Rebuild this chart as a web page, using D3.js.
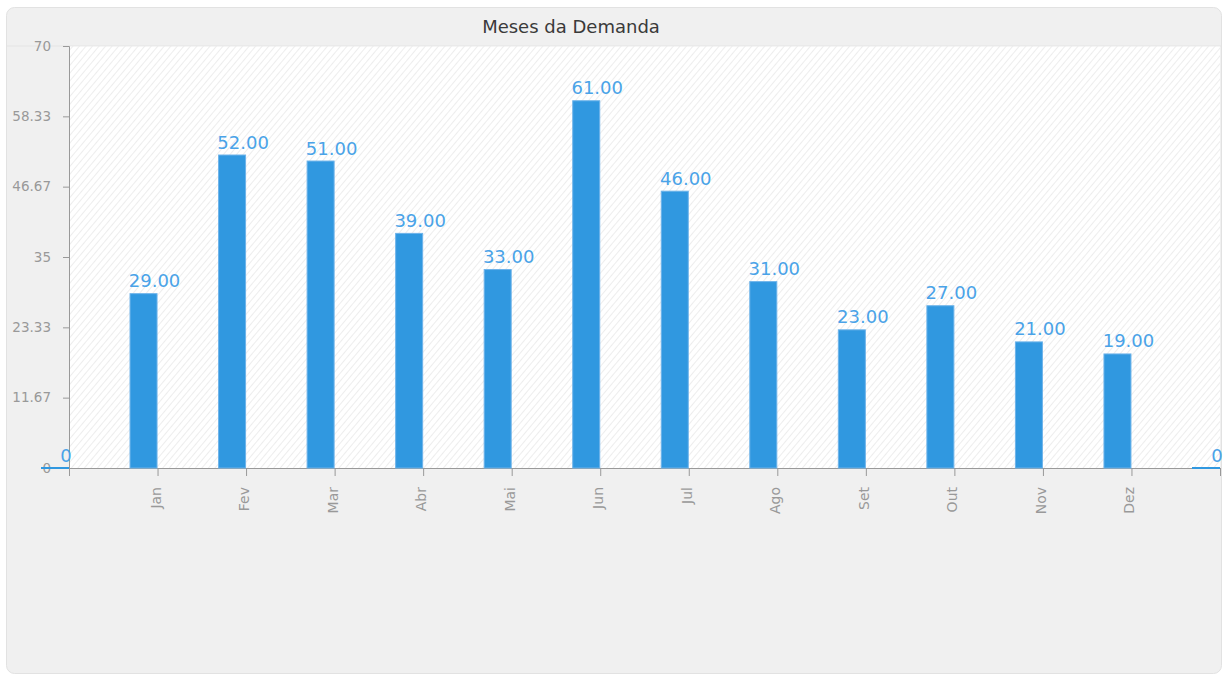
<!DOCTYPE html>
<html><head><meta charset="utf-8">
<script src="https://cdn.jsdelivr.net/npm/d3@7"></script>
<style>
html,body{margin:0;padding:0;background:#fff;}
svg{display:block;font-family:"DejaVu Sans",Verdana,sans-serif;}
</style></head>
<body>
<script>
const title = "Meses da Demanda";
const categories = ["", "Jan","Fev","Mar","Abr","Mai","Jun","Jul","Ago","Set","Out","Nov","Dez", ""];
const values = [0, 29, 52, 51, 39, 33, 61, 46, 31, 23, 27, 21, 19, 0];
const yTicks = [0, 11.67, 23.33, 35, 46.67, 58.33, 70];
const yMax = 70;

const W = 1226, H = 675;
const svg = d3.select("body").append("svg").attr("width", W).attr("height", H);
const defs = svg.append("defs");
const pat = defs.append("pattern").attr("id","hatch").attr("patternUnits","userSpaceOnUse")
  .attr("width",5).attr("height",5).attr("patternTransform","rotate(40)");
pat.append("rect").attr("width",5).attr("height",5).attr("fill","#ffffff");
pat.append("line").attr("x1",0).attr("y1",0).attr("x2",0).attr("y2",5).attr("stroke","#e6e6e6").attr("stroke-width",1.4);

// panel
svg.append("rect").attr("x",6.5).attr("y",7.5).attr("width",1215).attr("height",666).attr("rx",8)
  .attr("fill","#f0f0f0").attr("stroke","#e2e2e2");
svg.append("line").attr("x1",7).attr("x2",1221).attr("y1",46).attr("y2",46).attr("stroke","#e4e4e4");

const pL = 69, pR = 1220, pT = 46, pB = 468;
const x = d3.scaleLinear().domain([0, categories.length - 1]).range([pL, pR]);
const y = d3.scaleLinear().domain([0, yMax]).range([pB, pT]);

// plot background
svg.append("rect").attr("x",pL).attr("y",pT+0.5).attr("width",pR-pL).attr("height",pB-pT-0.5)
  .attr("fill","url(#hatch)");

// title
svg.append("text").attr("x",571).attr("y",33).attr("text-anchor","middle")
  .attr("font-size",18).attr("fill","#3a3a3a").text(title);

// y axis
const yAxis = d3.axisLeft(y).tickValues(yTicks).tickSize(6).tickFormat(d => String(d));
const gy = svg.append("g").attr("transform",`translate(${pL},0)`).call(yAxis);
gy.select(".domain").attr("stroke","#999");
gy.selectAll(".tick line").attr("stroke","#999");
gy.selectAll(".tick text").attr("fill","#999").attr("font-size",13.5).attr("x",-18).attr("dy","0.32em")
  .attr("font-family","'DejaVu Sans',Verdana,sans-serif");

// x axis
const idx = d3.range(categories.length);
const xAxis = d3.axisBottom(x).tickValues(idx).tickSize(8).tickFormat(i => categories[i]);
const gx = svg.append("g").attr("transform",`translate(0,${pB})`).call(xAxis);
gx.select(".domain").attr("stroke","#999");
gx.selectAll(".tick line").attr("stroke","#999");
gx.selectAll(".tick text").attr("fill","#999").attr("font-size",14)
  .attr("font-family","'DejaVu Sans',Verdana,sans-serif")
  .attr("transform","rotate(-90)").attr("text-anchor","end").attr("x",-19).attr("y",-2).attr("dy","0.32em");

// bars
const barW = 28;
svg.append("g").selectAll("rect").data(values).join("rect")
  .attr("x",(d,i)=>x(i)-barW+0.5).attr("width",barW-1)
  .attr("y",d=>y(d)+0.5).attr("height",d=>Math.max(0,y(0)-y(d)-0.5))
  .attr("fill","#3098e0").attr("stroke","#6db3ea").attr("stroke-width",1);
// zero-value bars drawn as line
svg.append("g").selectAll("line").data(values.map((v,i)=>({v,i})).filter(d=>d.v===0)).join("line")
  .attr("x1",d=>x(d.i)-barW).attr("x2",d=>x(d.i)).attr("y1",y(0)).attr("y2",y(0))
  .attr("stroke","#3098e0").attr("stroke-width",2);

// labels
svg.append("g").selectAll("text").data(values).join("text")
  .attr("x",(d,i)=>x(i)-3).attr("y",d=>y(d)-6).attr("text-anchor","middle")
  .attr("font-size",18).attr("fill","#4aa3e8")
  .text((d,i)=> (i===0||i===values.length-1) ? String(d) : d.toFixed(2));
</script>
</body></html>
